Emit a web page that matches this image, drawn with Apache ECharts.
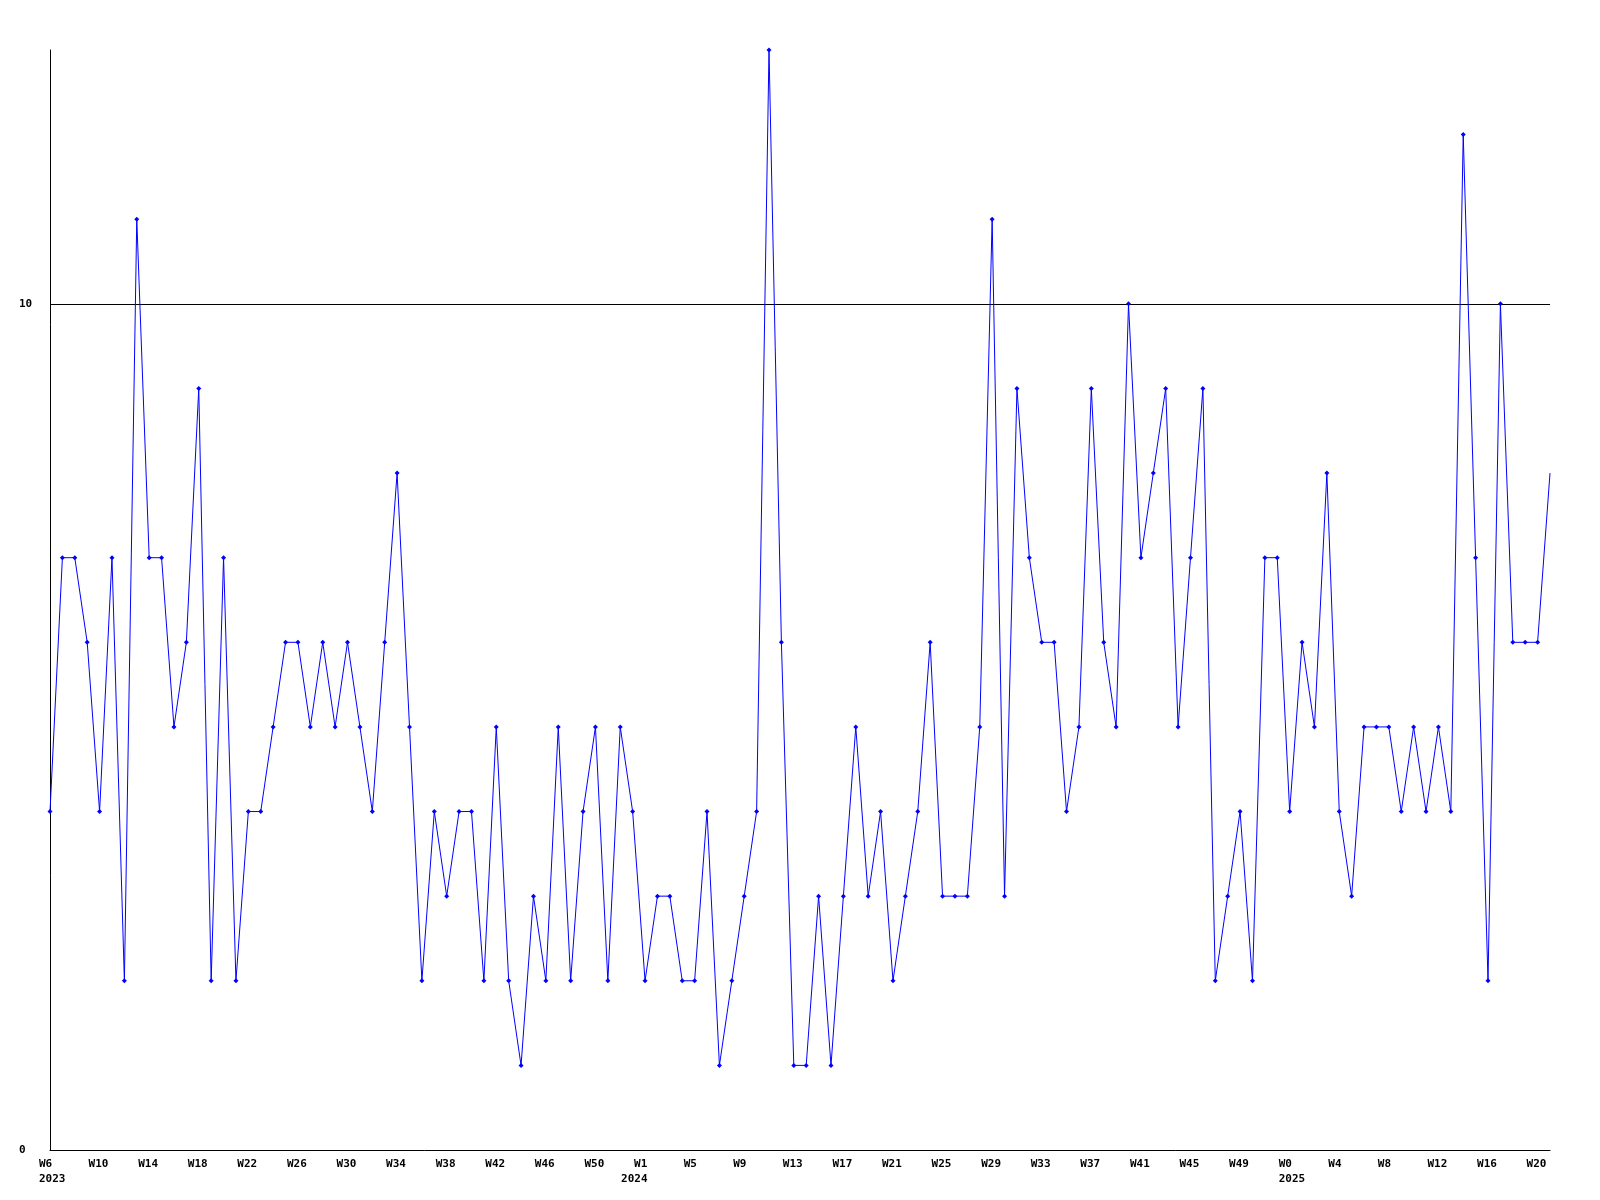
<!DOCTYPE html>
<html>
<head>
<meta charset="utf-8">
<script src="https://cdn.jsdelivr.net/npm/echarts@6/dist/echarts.min.js"></script>
<style>
html,body{margin:0;padding:0;background:#fff;}
#chart{width:1600px;height:1200px;}
</style>
</head>
<body>
<div id="chart"></div>
<script>
// Weekly categories (year-week)
const weeks2023 = ['W6','W7','W8','W9','W10','W11','W12','W13','W14','W15','W16','W17','W18','W19','W20','W21','W22','W23','W24','W25','W26','W27','W28','W29','W30','W31','W32','W33','W34','W35','W36','W37','W38','W39','W40','W41','W42','W43','W44','W45','W46','W47','W48','W49','W50','W51','W52'];
const weeks2024 = ['W0','W1','W2','W3','W4','W5','W6','W7','W8','W9','W10','W11','W12','W13','W14','W15','W16','W17','W18','W19','W20','W21','W22','W23','W24','W25','W26','W27','W28','W29','W30','W31','W32','W33','W34','W35','W36','W37','W38','W39','W40','W41','W42','W43','W44','W45','W46','W47','W48','W49','W50','W51','W52'];
const weeks2025 = ['W0','W1','W2','W3','W4','W5','W6','W7','W8','W9','W10','W11','W12','W13','W14','W15','W16','W17','W18','W19','W20','W21'];

// Series values
const values = [4,7,7,6,4,7,2,11,7,7, 5,6,9,2,7,2,4,4,5,6,
                6,5,6,5,6,5,4,6,8,5, 2,4,3,4,4,2,5,2,1,3,
                2,5,2,4,5,2,5,4,2,3, 3,2,2,4,1,2,3,4,13,6,
                1,1,3,1,3,5,3,4,2,3, 4,6,3,3,3,5,11,3,9,7,
                6,6,4,5,9,6,5,10,7,8, 9,5,7,9,2,3,4,2,7,7,
                4,6,5,8,4,3,5,5,5,4, 5,4,5,4,12,7,2,10,6,6,
                6,8];

const categories = []
  .concat(weeks2023.map(w => '2023-' + w))
  .concat(weeks2024.map(w => '2024-' + w))
  .concat(weeks2025.map(w => '2025-' + w));

const FONT = '"DejaVu Sans Mono", "Liberation Mono", monospace';
const chart = echarts.init(document.getElementById('chart'), null, {renderer: 'canvas'});

chart.setOption({
  backgroundColor: '#ffffff',
  animation: false,
  grid: {left: 50, right: 50, top: 50, bottom: 50, containLabel: false},
  xAxis: {
    type: 'category',
    data: categories,
    boundaryGap: false,
    axisLine: {show: true, lineStyle: {color: '#000', width: 1}},
    axisTick: {show: false},
    splitLine: {show: false},
    axisLabel: {
      interval: 3,
      showMinLabel: true,
      hideOverlap: false,
      align: 'left',
      margin: 7,
      padding: [0, 0, 0, -11],
      fontFamily: FONT,
      fontWeight: 'bold',
      fontSize: 11,
      lineHeight: 15,
      color: '#000',
      formatter: function (value, index) {
        const parts = value.split('-');
        const yr = parts[0], wk = parts[1];
        const prev = index >= 4 ? categories[index - 4].split('-')[0] : null;
        if (yr !== prev) {
          const ys = yr === '2024' ? 'yl' : 'y';
          return '{w|' + wk + '}\n{' + ys + '|' + yr + '}';
        }
        return '{w|' + wk + '}';
      },
      rich: {
        w: {fontFamily: FONT, fontWeight: 'bold', fontSize: 11, lineHeight: 15, color: '#000'},
        y: {fontFamily: FONT, fontWeight: 'bold', fontSize: 11, lineHeight: 15, color: '#000'},
        yl: {fontFamily: FONT, fontWeight: 'bold', fontSize: 11, lineHeight: 15, color: '#000', padding: [0, 0, 0, -13]}
      }
    }
  },
  yAxis: {
    type: 'value',
    min: 0,
    max: 13,
    interval: 10,
    axisLine: {show: true, lineStyle: {color: '#000', width: 1}},
    axisTick: {show: false},
    splitLine: {show: true, showMinLine: false, showMaxLine: false, lineStyle: {color: '#000', width: 1}},
    axisLabel: {
      showMaxLabel: false,
      align: 'left',
      margin: 31,
      fontFamily: FONT,
      fontWeight: 'bold',
      fontSize: 11,
      color: '#000'
    }
  },
  series: [{
    type: 'line',
    data: values,
    clip: true,
    lineStyle: {color: '#0000ff', width: 1},
    itemStyle: {color: '#0000ff'},
    symbol: 'diamond',
    symbolSize: function (v, params) { return params.dataIndex === values.length - 1 ? 0 : 5; },
    showAllSymbol: true,
    emphasis: {disabled: true}
  }]
});
</script>
</body>
</html>
